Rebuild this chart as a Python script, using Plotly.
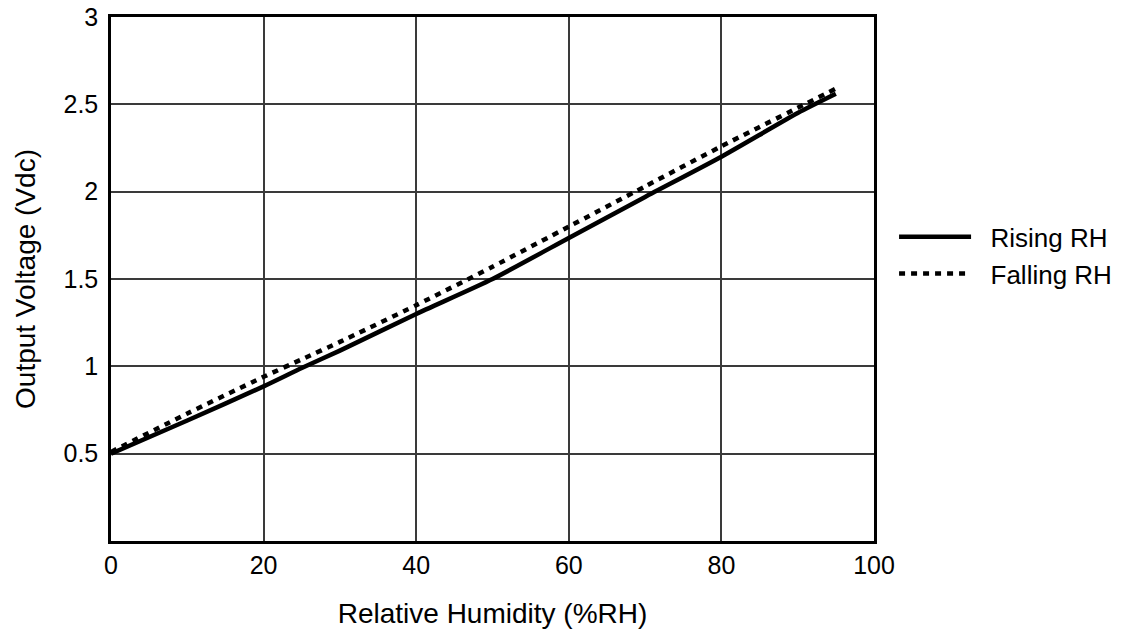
import plotly.graph_objects as go

rh = [0, 10, 20, 25, 30, 40, 50, 60, 70, 80, 90, 95]
rising_v = [0.50, 0.69, 0.885, 0.99, 1.09, 1.30, 1.50, 1.735, 1.97, 2.20, 2.45, 2.56]
falling_v = [0.51, 0.73, 0.94, 1.04, 1.14, 1.35, 1.57, 1.80, 2.03, 2.26, 2.48, 2.59]

x_ticks = [0, 20, 40, 60, 80, 100]
y_ticks = [0.5, 1, 1.5, 2, 2.5, 3]
y_tick_labels = ["0.5", "1", "1.5", "2", "2.5", "3"]
series_names = ["\u00a0\u00a0Rising RH", "\u00a0\u00a0Falling RH"]

FONT = "Liberation Sans, Arial, sans-serif"

fig = go.Figure()
fig.add_trace(go.Scatter(x=rh, y=rising_v, mode="lines", name=series_names[0],
                         line=dict(color="black", width=4.5, shape="spline", smoothing=0.6)))
fig.add_trace(go.Scatter(x=rh, y=falling_v, mode="lines", name=series_names[1],
                         line=dict(color="black", width=4.5, dash="6px,6px", shape="spline", smoothing=0.6)))

axis_common = dict(showline=True, linecolor="black", linewidth=2.5, mirror=True,
                   showgrid=True, gridcolor="#3a3a3a", gridwidth=1.5,
                   zeroline=False, ticks="", automargin=False,
                   tickfont=dict(family=FONT, size=25, color="black"))

fig.update_xaxes(range=[0, 100], tickvals=x_ticks, ticktext=[str(t) for t in x_ticks],
                 title=dict(text="Relative Humidity (%RH)", font=dict(family=FONT, size=28, color="black"),
                            standoff=26),
                 **axis_common)
fig.update_yaxes(range=[0, 3], tickvals=y_ticks, ticktext=y_tick_labels,
                 ticklabelstandoff=5,
                 title=dict(text="Output Voltage (Vdc)", font=dict(family=FONT, size=28, color="black"),
                            standoff=20),
                 **axis_common)

fig.update_layout(
    width=1135, height=631,
    margin=dict(l=111, r=261, t=17, b=90),
    plot_bgcolor="white", paper_bgcolor="white",
    showlegend=True,
    legend=dict(x=1.0263, y=0.545, xanchor="left", yanchor="middle",
                font=dict(family=FONT, size=26, color="black"),
                bgcolor="rgba(0,0,0,0)", itemwidth=72, tracegroupgap=0),
)

fig.write_html("out.html", config={"displayModeBar": False},
               post_script="document.body.style.margin='0';document.body.style.overflow='hidden';")
